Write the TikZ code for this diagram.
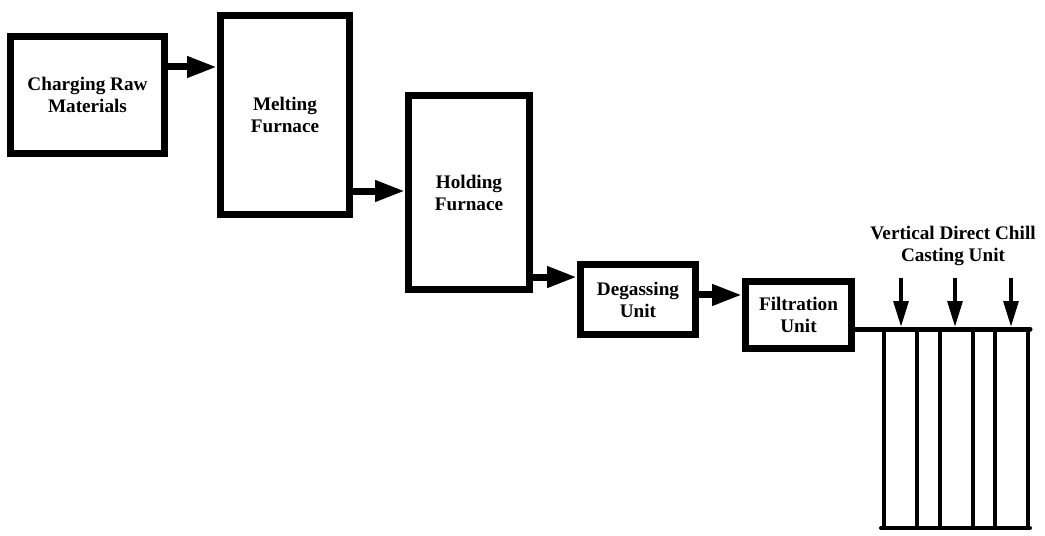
\documentclass[tikz,border=0pt]{standalone}
\usepackage{fontspec}
\setmainfont{Liberation Serif}
\usetikzlibrary{arrows.meta}
\usetikzlibrary{positioning}
\tikzset{unit-line/.style={line width=5.25pt}}
\tikzset{unit-node/.style={draw, unit-line, align=center, inner sep=0,
    font=\fontsize{14.4}{16.5}\selectfont\bfseries}}
\tikzset{flow-arrow/.style={unit-line, -{Triangle[length=22.5pt, width=15pt]}}}
\tikzset{mould-line/.style={line width=3pt, line cap=round}}
\tikzset{feed-arrow/.style={line width=3pt, -{Triangle[length=19.5pt, width=11pt]}}}

\begin{document}
\begin{tikzpicture}[x=0.75pt, y=-0.75pt]
    \useasboundingbox (0,0) rectangle (1045,535);

    % process units
    \node[unit-node, minimum width=115.5pt, minimum height=87.75pt] (raw) at (87.5,95) {Charging Raw\\Materials};
    \node[unit-node, minimum width=96.75pt, minimum height=149.25pt] (melt) at (285,115) {Melting\\Furnace};
    \node[unit-node, minimum width=90.75pt, minimum height=145.5pt] (hold) at (469,192.5) {Holding\\Furnace};
    \node[unit-node, minimum width=86.25pt, minimum height=52.5pt] (degas) at (638,299.5) {Degassing\\Unit};
    \node[unit-node, minimum width=79.5pt, minimum height=50.25pt] (filter) at (798.5,315) {Filtration\\Unit};

    \draw[flow-arrow] ([yshift=21pt]raw.east) -- ([yshift=21pt]raw.east -| melt.west);
    \draw[flow-arrow] ([yshift=-57pt]melt.east) -- ([yshift=-57pt]melt.east -| hold.west);
    \draw[flow-arrow] ([yshift=-63.4pt]hold.east) -- ([yshift=-63.4pt]hold.east -| degas.west);
    \draw[flow-arrow] ([yshift=3.4pt]degas.east) -- ([yshift=3.4pt]degas.east -| filter.west);

    % casting unit
    \node[font=\fontsize{14.4}{16.5}\selectfont\bfseries, align=center] (chill) at (953,246) {Vertical Direct Chill\\Casting Unit};
    \coordinate (mould-end) at (1030,329);
    \draw[line width=3.75pt, line cap=round] ([yshift=-10.5pt]filter.east) -- ([yshift=-10.5pt]filter.east -| mould-end);
    \foreach \x in {884, 917, 940, 973, 995, 1028}
        \draw[mould-line] (\x,329) -- (\x,528);
    \draw[mould-line] (881,528) -- (1030,528);
    \foreach \x in {901, 955, 1011}
        \draw[feed-arrow] (\x,278) -- (\x,327);
\end{tikzpicture}
\end{document}
